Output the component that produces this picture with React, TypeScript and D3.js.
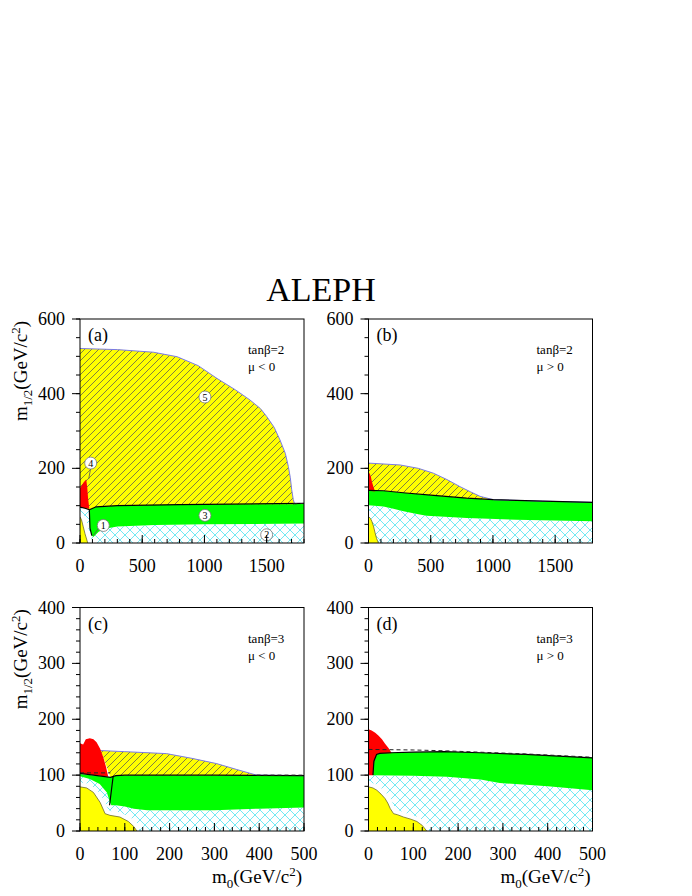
import React from "react";
import * as d3 from "d3";

type P = [number, number];

// ---------- Panel (a): tanβ=2, μ<0 ----------
const A_hatch: P[] = [[0,521],[300,518],[590,511],[780,499],[950,475],[1100,441],[1250,410],[1366,383],[1450,360],[1500,339],[1560,310],[1607,276],[1650,240],[1674,205],[1690,175],[1701,143],[1714,116],[1725,104],[800,103],[300,100],[130,97],[75,89],[0,96]];
const A_hatchEdge: P[] = [[0,521],[300,518],[590,511],[780,499],[950,475],[1100,441],[1250,410],[1366,383],[1450,360],[1500,339],[1560,310],[1607,276],[1650,240],[1674,205],[1690,175],[1701,143],[1714,116],[1725,104]];
const A_greenTop: P[] = [[75,89],[130,97],[300,100],[800,103],[1800,106]];
const A_greenBot: P[] = [[1800,52],[1000,50],[600,48],[300,44],[200,38],[150,30],[107,16],[95,20],[80,40]];
const A_red: P[] = [[0,95],[0,147],[15,155],[30,163],[50,170],[58,150],[65,120],[75,92]];
const A_cyan: P[] = [[0,93],[75,89],[80,40],[95,20],[107,16],[150,30],[200,38],[300,44],[600,48],[1000,50],[1800,52],[1800,0],[90,0],[70,15],[50,35],[30,55],[10,75],[0,80]];
const A_yellow: P[] = [[0,0],[0,70],[12,62],[25,45],[40,25],[55,8],[62,0]];
const A_black: P[] = [[0,96],[40,93],[75,89],[80,40],[95,20]];
const A_dashed: P[] = [[1714,105],[1800,106]];
const A_markers: [string, number, number][] = [["1",187,47],["2",1500,22],["3",1004,74],["4",86,214],["5",1004,391]];
const A_pointers: P[][] = [[[86,200],[70,172]],[[150,40],[108,20]]];

// ---------- Panel (b): tanβ=2, μ>0 ----------
const B_hatchEdge: P[] = [[0,214],[254,209],[400,200],[521,187],[630,170],[735,151],[820,137],[896,125],[1003,116],[1400,112],[1800,109]];
const B_greenTop: P[] = [[0,141],[120,140],[300,134],[500,128],[789,120],[1003,116],[1400,112],[1800,109]];
const B_greenBot: P[] = [[1800,58],[1190,62],[789,67],[468,73],[400,77],[281,85],[200,92],[120,98],[0,101]];
const B_red: P[] = [[0,140],[0,188],[10,186],[20,176],[27,165],[40,150],[53,138]];
const B_yellow: P[] = [[0,0],[0,71],[15,66],[27,58],[40,45],[53,27],[65,12],[80,0]];

// ---------- Panel (c): tanβ=3, μ<0 ----------
const C_hatch: P[] = [[45,144],[100,142],[193,138.5],[250,130],[305,120.6],[350,110],[394,100],[500,99],[100,100],[80,99],[68,96],[52,132]];
const C_hatchEdge: P[] = [[45,144],[100,142],[193,138.5],[250,130],[305,120.6],[350,110],[394,100],[500,99]];
const C_red: P[] = [[0,103],[0,157],[7,155],[13,164],[22,166],[30,164],[37,159],[45,147],[52,132],[58,115],[63,97]];
const C_greenTop: P[] = [[0,103],[68,96],[80,99],[100,100],[300,100],[500,99]];
const C_green: P[] = [[0,102],[68,96],[80,99],[100,100],[500,99],[500,42],[400,40],[300,37],[150,37],[120,40],[100,44],[80,46],[70,46],[67,51],[60,69],[44,84],[22,93],[0,98]];
const C_cyan: P[] = [[0,98],[22,93],[44,84],[60,69],[67,51],[70,46],[80,46],[100,44],[120,40],[150,37],[300,37],[400,40],[500,42],[500,0],[0,0]];
const C_yellow: P[] = [[0,0],[0,79],[15,77],[30,69],[45,51],[56,31],[67,28],[89,25],[108,17],[120,8],[127,0]];
const C_black: P[] = [[74,98],[70,72],[66,46]];
const C_dashed: P[][] = [[[0,104],[68,104]],[[394,100],[500,100]]];

// ---------- Panel (d): tanβ=3, μ>0 ----------
const D_red: P[] = [[0,100],[0,182],[7,180],[15,176],[22,171],[30,164],[37,156],[45,148],[52,139],[25,139],[18,137],[13,125],[10,100]];
const D_greenTop: P[] = [[10,100],[12,125],[18,137],[25,139],[50,140],[100,141],[170,142],[250,140],[350,137],[500,131]];
const D_greenBot: P[] = [[500,73],[400,80],[293,86],[250,92],[175,97],[100,99],[10,100]];
const D_cyan: P[] = [[0,100],[10,100],[100,99],[175,97],[250,92],[293,86],[400,80],[500,73],[500,0],[0,0]];
const D_yellow: P[] = [[0,0],[0,79],[10,77],[18.6,73],[28,66],[37,58],[43,50],[48.6,40],[56,31],[65,29],[78,25],[95,21],[108,17],[120,10],[130,0]];
const D_dashed: P[][] = [[[0,146],[100,145],[174,143.5],[250,141],[350,138],[500,132]]];

// ---------- axis ticks ----------
const TOP_X_TICKS = [0, 500, 1000, 1500];
const TOP_Y_TICKS = [0, 200, 400, 600];
const BOT_X_TICKS = [0, 100, 200, 300, 400, 500];
const BOT_Y_TICKS = [0, 100, 200, 300, 400];

const SERIF = "'Liberation Serif', 'Times New Roman', serif";

interface Layers {
  cyan?: P[];
  yellow?: P[];
  yellowGap?: boolean;
  green?: P[];
  hatch?: P[];
  hatchEdge?: P[];
  red?: P[];
  black?: P[][];
  dashed?: P[][];
  markers?: [string, number, number][];
  pointers?: P[][];
}

interface Cfg {
  id: string;
  label: string;
  tanb: string;
  mu: string;
  left: number; right: number; top: number; bottom: number;
  xMax: number; yMax: number;
  xTicks: number[]; yTicks: number[];
  xMinor: number; yMinor: number;
  yLabel: boolean; xLabel: boolean;
  layers: Layers;
}

function Panel({ c }: { c: Cfg }) {
  const x = d3.scaleLinear().domain([0, c.xMax]).range([c.left, c.right]);
  const y = d3.scaleLinear().domain([0, c.yMax]).range([c.bottom, c.top]);
  const line = d3.line<P>().x(d => x(d[0])).y(d => y(d[1]));
  const area = (pts: P[]) => line(pts)! + "Z";
  const L = c.layers;
  const clip = `clip-${c.id}`;
  const minorX = d3.range(0, c.xMax + 1e-6, c.xMinor);
  const minorY = d3.range(0, c.yMax + 1e-6, c.yMinor);
  const yellowCurve = L.yellow ? L.yellow.slice(1) : null;
  return (
    <g>
      <defs>
        <clipPath id={clip}>
          <rect x={c.left} y={c.top} width={c.right - c.left} height={c.bottom - c.top} />
        </clipPath>
      </defs>
      <g clipPath={`url(#${clip})`}>
        {L.cyan && <path d={area(L.cyan)} fill="url(#cross)" stroke="none" />}
        {L.yellow && yellowCurve && (
          <g>
            {L.yellowGap && <path d={line(yellowCurve)!} fill="none" stroke="#fff" strokeWidth={9} strokeLinejoin="round" />}
            <path d={area(L.yellow)} fill="#ffff00" stroke="none" />
            <path d={line(yellowCurve)!} fill="none" stroke="#6b6b2a" strokeWidth={0.8} />
          </g>
        )}
        {L.green && <path d={area(L.green)} fill="#00ff00" stroke="none" />}
        {L.hatch && <path d={area(L.hatch)} fill="url(#hatch)" stroke="none" />}
        {L.hatchEdge && <path d={line(L.hatchEdge)!} fill="none" stroke="#7a7ae6" strokeWidth={1} />}
        {L.red && <path d={area(L.red)} fill="#ff0000" stroke="none" />}
        {L.black && L.black.map((b, i) => <path key={i} d={line(b)!} fill="none" stroke="#000" strokeWidth={1.2} />)}
        {L.dashed && L.dashed.map((b, i) => <path key={i} d={line(b)!} fill="none" stroke="#222" strokeWidth={1} strokeDasharray="4,3" />)}
        {L.pointers && L.pointers.map((b, i) => <path key={i} d={line(b)!} fill="none" stroke="#555" strokeWidth={0.8} />)}
        {L.markers && L.markers.map(([t, mx, my]) => (
          <g key={t}>
            <circle cx={x(mx)} cy={y(my)} r={6} fill="#fff" stroke="#777" strokeWidth={0.8} />
            <text x={x(mx)} y={y(my) + 3.5} textAnchor="middle" fontSize={10} fontFamily={SERIF} fill="#000">{t}</text>
          </g>
        ))}
      </g>
      {/* frame */}
      <rect x={c.left} y={c.top} width={c.right - c.left} height={c.bottom - c.top} fill="none" stroke="#000" strokeWidth={1} />
      {/* minor ticks */}
      {minorX.map(v => <line key={"mx" + v} x1={x(v)} x2={x(v)} y1={c.bottom} y2={c.bottom - 4} stroke="#000" strokeWidth={1} />)}
      {minorY.map(v => <line key={"my" + v} x1={c.left} x2={c.left - 4} y1={y(v)} y2={y(v)} stroke="#000" strokeWidth={1} />)}
      {c.xTicks.map(v => <line key={"tx" + v} x1={x(v)} x2={x(v)} y1={c.bottom} y2={c.bottom - 8} stroke="#000" strokeWidth={1} />)}
      {c.yTicks.map(v => <line key={"ty" + v} x1={c.left} x2={c.left - 8} y1={y(v)} y2={y(v)} stroke="#000" strokeWidth={1} />)}
      {c.xTicks.map(v => (
        <text key={"lx" + v} x={x(v)} y={c.bottom + 29} textAnchor="middle" fontSize={18} fontFamily={SERIF} fill="#000">{v}</text>
      ))}
      {c.yTicks.map(v => (
        <text key={"ly" + v} x={c.left - 15} y={y(v) + 6} textAnchor="end" fontSize={18} fontFamily={SERIF} fill="#000">{v}</text>
      ))}
      <text x={c.left + 8} y={c.top + 22} fontSize={18} fontFamily={SERIF} fill="#000">{c.label}</text>
      <text x={c.right - 56} y={c.top + 35} fontSize={13} fontFamily={SERIF} fill="#000">{c.tanb}</text>
      <text x={c.right - 56} y={c.top + 52} fontSize={13} fontFamily={SERIF} fill="#000">{c.mu}</text>
      {c.yLabel && (
        <text transform={`translate(27,${(c.top + c.bottom) / 2 - 60}) rotate(-90)`} textAnchor="middle" fontSize={19} fontFamily={SERIF} fill="#000">
          m<tspan dy={5} fontSize={13}>1/2</tspan><tspan dy={-5}>(GeV/c</tspan><tspan dy={-7} fontSize={13}>2</tspan><tspan dy={7}>)</tspan>
        </text>
      )}
      {c.xLabel && (
        <text x={c.right - 2} y={c.bottom + 52} textAnchor="end" fontSize={19} fontFamily={SERIF} fill="#000">
          m<tspan dy={5} fontSize={13}>0</tspan><tspan dy={-5}>(GeV/c</tspan><tspan dy={-7} fontSize={13}>2</tspan><tspan dy={7}>)</tspan>
        </text>
      )}
    </g>
  );
}

export default function App() {
  const panels: Cfg[] = [
    {
      id: "a", label: "(a)", tanb: "tanβ=2", mu: "μ < 0",
      left: 80, right: 304, top: 319, bottom: 543,
      xMax: 1800, yMax: 600, xTicks: TOP_X_TICKS, yTicks: TOP_Y_TICKS, xMinor: 100, yMinor: 50,
      yLabel: true, xLabel: false,
      layers: {
        cyan: A_cyan, yellow: A_yellow, yellowGap: true,
        green: [...A_greenTop, ...A_greenBot],
        hatch: A_hatch, hatchEdge: A_hatchEdge, red: A_red,
        black: [A_black, A_greenTop], dashed: [A_dashed],
        markers: A_markers, pointers: A_pointers,
      },
    },
    {
      id: "b", label: "(b)", tanb: "tanβ=2", mu: "μ > 0",
      left: 368.5, right: 592.5, top: 319, bottom: 543,
      xMax: 1800, yMax: 600, xTicks: TOP_X_TICKS, yTicks: TOP_Y_TICKS, xMinor: 100, yMinor: 50,
      yLabel: false, xLabel: false,
      layers: {
        cyan: [...B_greenBot, [0, 0], [1800, 0]], yellow: B_yellow,
        green: [...B_greenTop, ...B_greenBot],
        hatch: [...B_hatchEdge, ...B_greenTop.slice().reverse()], hatchEdge: B_hatchEdge, red: B_red,
        black: [B_greenTop],
      },
    },
    {
      id: "c", label: "(c)", tanb: "tanβ=3", mu: "μ < 0",
      left: 80, right: 304, top: 607.5, bottom: 831,
      xMax: 500, yMax: 400, xTicks: BOT_X_TICKS, yTicks: BOT_Y_TICKS, xMinor: 20, yMinor: 20,
      yLabel: true, xLabel: true,
      layers: {
        cyan: C_cyan, yellow: C_yellow, yellowGap: true,
        green: C_green, hatch: C_hatch, hatchEdge: C_hatchEdge, red: C_red,
        black: [C_greenTop, C_black], dashed: C_dashed,
      },
    },
    {
      id: "d", label: "(d)", tanb: "tanβ=3", mu: "μ > 0",
      left: 368.5, right: 592.5, top: 607.5, bottom: 831,
      xMax: 500, yMax: 400, xTicks: BOT_X_TICKS, yTicks: BOT_Y_TICKS, xMinor: 20, yMinor: 20,
      yLabel: false, xLabel: true,
      layers: {
        cyan: D_cyan, yellow: D_yellow, yellowGap: true,
        green: [...D_greenTop, ...D_greenBot], red: D_red,
        black: [D_greenTop], dashed: D_dashed,
      },
    },
  ];
  return (
    <svg width={692} height={896} style={{ position: "absolute", left: 0, top: 0, background: "#fff" }}>
      <defs>
        <pattern id="hatch" width={7} height={7} patternUnits="userSpaceOnUse">
          <rect width={7} height={7} fill="#ffff00" />
          <path d="M-1,8 L8,-1 M-1,1 L1,-1 M6,8 L8,6" stroke="#4a4a5a" strokeWidth={0.7} />
        </pattern>
        <pattern id="cross" width={10} height={10} patternUnits="userSpaceOnUse">
          <rect width={10} height={10} fill="#fff" />
          <path d="M0,0 L10,10 M10,0 L0,10" stroke="#4fe3f0" strokeWidth={0.8} />
        </pattern>
      </defs>
      <rect width={692} height={896} fill="#fff" />
      <text x={321} y={301} textAnchor="middle" fontSize={34} fontFamily={SERIF} fill="#000">ALEPH</text>
      {panels.map(p => <Panel key={p.id} c={p} />)}
    </svg>
  );
}
